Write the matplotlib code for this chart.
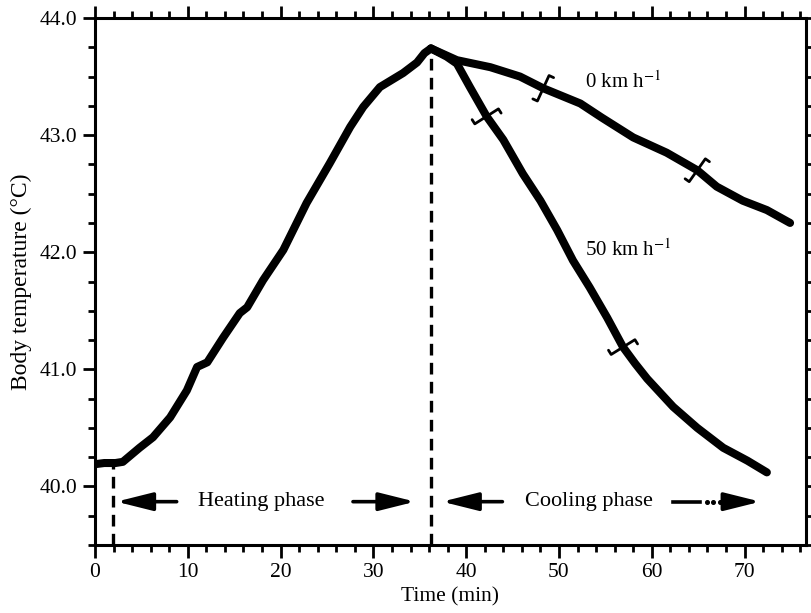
import numpy as np
import matplotlib
matplotlib.use("Agg")
import matplotlib.pyplot as plt
from matplotlib.ticker import MultipleLocator

plt.rcParams['font.family'] = ['Liberation Serif', 'DejaVu Serif']
plt.rcParams['mathtext.fontset'] = 'stix'

# ---- data ----
heat_t = [0.0, 1.0, 2.2, 3.0, 4.8, 6.25, 8.1, 9.9, 11.0, 12.1, 13.8, 15.6, 16.4,
          18.1, 20.3, 22.8, 25.3, 27.5, 28.9, 30.7, 33.2, 34.7, 35.5, 36.2]
heat_T = [40.19, 40.20, 40.20, 40.21, 40.33, 40.42, 40.59, 40.82, 41.02, 41.06,
          41.27, 41.48, 41.53, 41.76, 42.02, 42.42, 42.76, 43.07, 43.24, 43.41,
          43.53, 43.62, 43.70, 43.74]

cool0_t = [36.2, 39.0, 42.6, 45.8, 48.3, 52.3, 54.6, 58.0, 61.6, 64.9, 67.0,
           69.8, 72.4, 74.9]
cool0_T = [43.74, 43.64, 43.58, 43.50, 43.40, 43.27, 43.15, 42.98, 42.85, 42.70,
           42.56, 42.44, 42.36, 42.25]

cool50_t = [36.2, 37.9, 39.0, 40.4, 42.2, 44.0, 46.1, 48.0, 49.8, 51.5, 53.3,
            55.2, 56.9, 58.2, 59.5, 62.3, 64.9, 67.7, 70.3, 72.4]
cool50_T = [43.74, 43.67, 43.61, 43.41, 43.16, 42.96, 42.67, 42.44, 42.19, 41.93,
            41.70, 41.44, 41.19, 41.05, 40.92, 40.68, 40.50, 40.33, 40.22, 40.12]

marks0_t = [48.3, 64.9]      # cross marks on the 0 km/h curve
marks50_t = [42.2, 56.9]     # cross marks on the 50 km/h curve

start_t = 1.9                # start of heating phase
peak_t = 36.2                # end of heating phase
peak_T = 43.74
start_T = 40.20

x_ticks = [0, 10, 20, 30, 40, 50, 60, 70]
y_ticks = [40.0, 41.0, 42.0, 43.0, 44.0]
y_ticklabels = ["40.0", "41.0", "42.0", "43.0", "44.0"]

# ---- figure ----
fig = plt.figure(figsize=(8.12, 6.13), dpi=100)
ax = fig.add_axes([95 / 812, 1 - 545 / 613, (806 - 95) / 812, (545 - 18) / 613])
ax.set_xlim(0, (806 - 95) / 9.28)
ax.set_ylim(39.5, 44.0)

lw_curve = 5.8
for tt, TT in [(heat_t, heat_T), (cool0_t, cool0_T), (cool50_t, cool50_T)]:
    ax.plot(tt, TT, color='black', lw=lw_curve, solid_capstyle='round',
            solid_joinstyle='round')

# dashed vertical phase boundaries
ax.plot([start_t, start_t], [39.5, start_T - 0.02], color='black', lw=2.4,
        ls=(0, (3.5, 2.2)))
ax.plot([peak_t, peak_t], [39.5, peak_T - 0.03], color='black', lw=2.4,
        ls=(0, (3.5, 2.2)))

# cross marks perpendicular to curves
fig.canvas.draw()
def cross(ts, tt, TT, half=14):
    for t0 in ts:
        T0 = np.interp(t0, tt, TT)
        p = ax.transData.transform((t0, T0))
        p1 = ax.transData.transform((t0 - 0.8, np.interp(t0 - 0.8, tt, TT)))
        p2 = ax.transData.transform((t0 + 0.8, np.interp(t0 + 0.8, tt, TT)))
        d = p2 - p1
        d = d / np.hypot(*d)
        n = np.array([-d[1], d[0]])
        a = p + n * half
        b = p - n * half
        pts = np.array([a + d * 5, a, b, b - d * 5])
        dp = ax.transData.inverted().transform(pts)
        ax.plot(dp[:, 0], dp[:, 1], color='black', lw=2.0, solid_capstyle='round')

cross(marks0_t, cool0_t, cool0_T)
cross(marks50_t, cool50_t, cool50_T)

# labels on the curves
ax.text(52.8, 43.45, r"0 km h$^{-1}$", fontsize=15, va='center', ha='left')
ax.text(52.8, 42.02, r"50 km h$^{-1}$", fontsize=15, va='center', ha='left')

# phase annotations
ya = 39.87
aprops = dict(arrowstyle="-|>,head_length=2.2,head_width=0.55", color='black',
              lw=2.6, shrinkA=0, shrinkB=0, mutation_scale=10)
ax.annotate("", xy=(2.3, ya), xytext=(8.8, ya), arrowprops=aprops)
ax.annotate("", xy=(34.5, ya), xytext=(27.8, ya), arrowprops=aprops)
ax.text(17.9, ya, "Heating phase", fontsize=16, ha='center', va='center')

ax.annotate("", xy=(37.4, ya), xytext=(43.9, ya), arrowprops=aprops)
ax.text(53.2, ya, "Cooling phase", fontsize=16, ha='center', va='center')
ax.plot([62.3, 65.2], [ya, ya], color='black', lw=2.6)
ax.plot([65.9, 66.6, 67.3], [ya, ya, ya], 'o', color='black', ms=2.6)
ax.annotate("", xy=(71.7, ya), xytext=(67.8, ya), arrowprops=aprops)

# axes styling
for s in ax.spines.values():
    s.set_linewidth(2.2)
ax.set_xticks(x_ticks)
ax.set_xticklabels([str(v) for v in x_ticks])
ax.set_yticks(y_ticks)
ax.set_yticklabels(y_ticklabels)
ax.xaxis.set_minor_locator(MultipleLocator(2))
ax.yaxis.set_minor_locator(MultipleLocator(0.25))
ax.tick_params(which='both', direction='out', top=True, right=True,
               labelsize=15.5, width=2.0, pad=4)
ax.tick_params(which='major', length=9)
ax.tick_params(which='minor', length=5)

ax.set_xlabel("Time (min)", fontsize=15.5, labelpad=4)
ax.set_ylabel("Body temperature (°C)", fontsize=17, labelpad=5)

fig.savefig("out.png", dpi=100, facecolor='white')
